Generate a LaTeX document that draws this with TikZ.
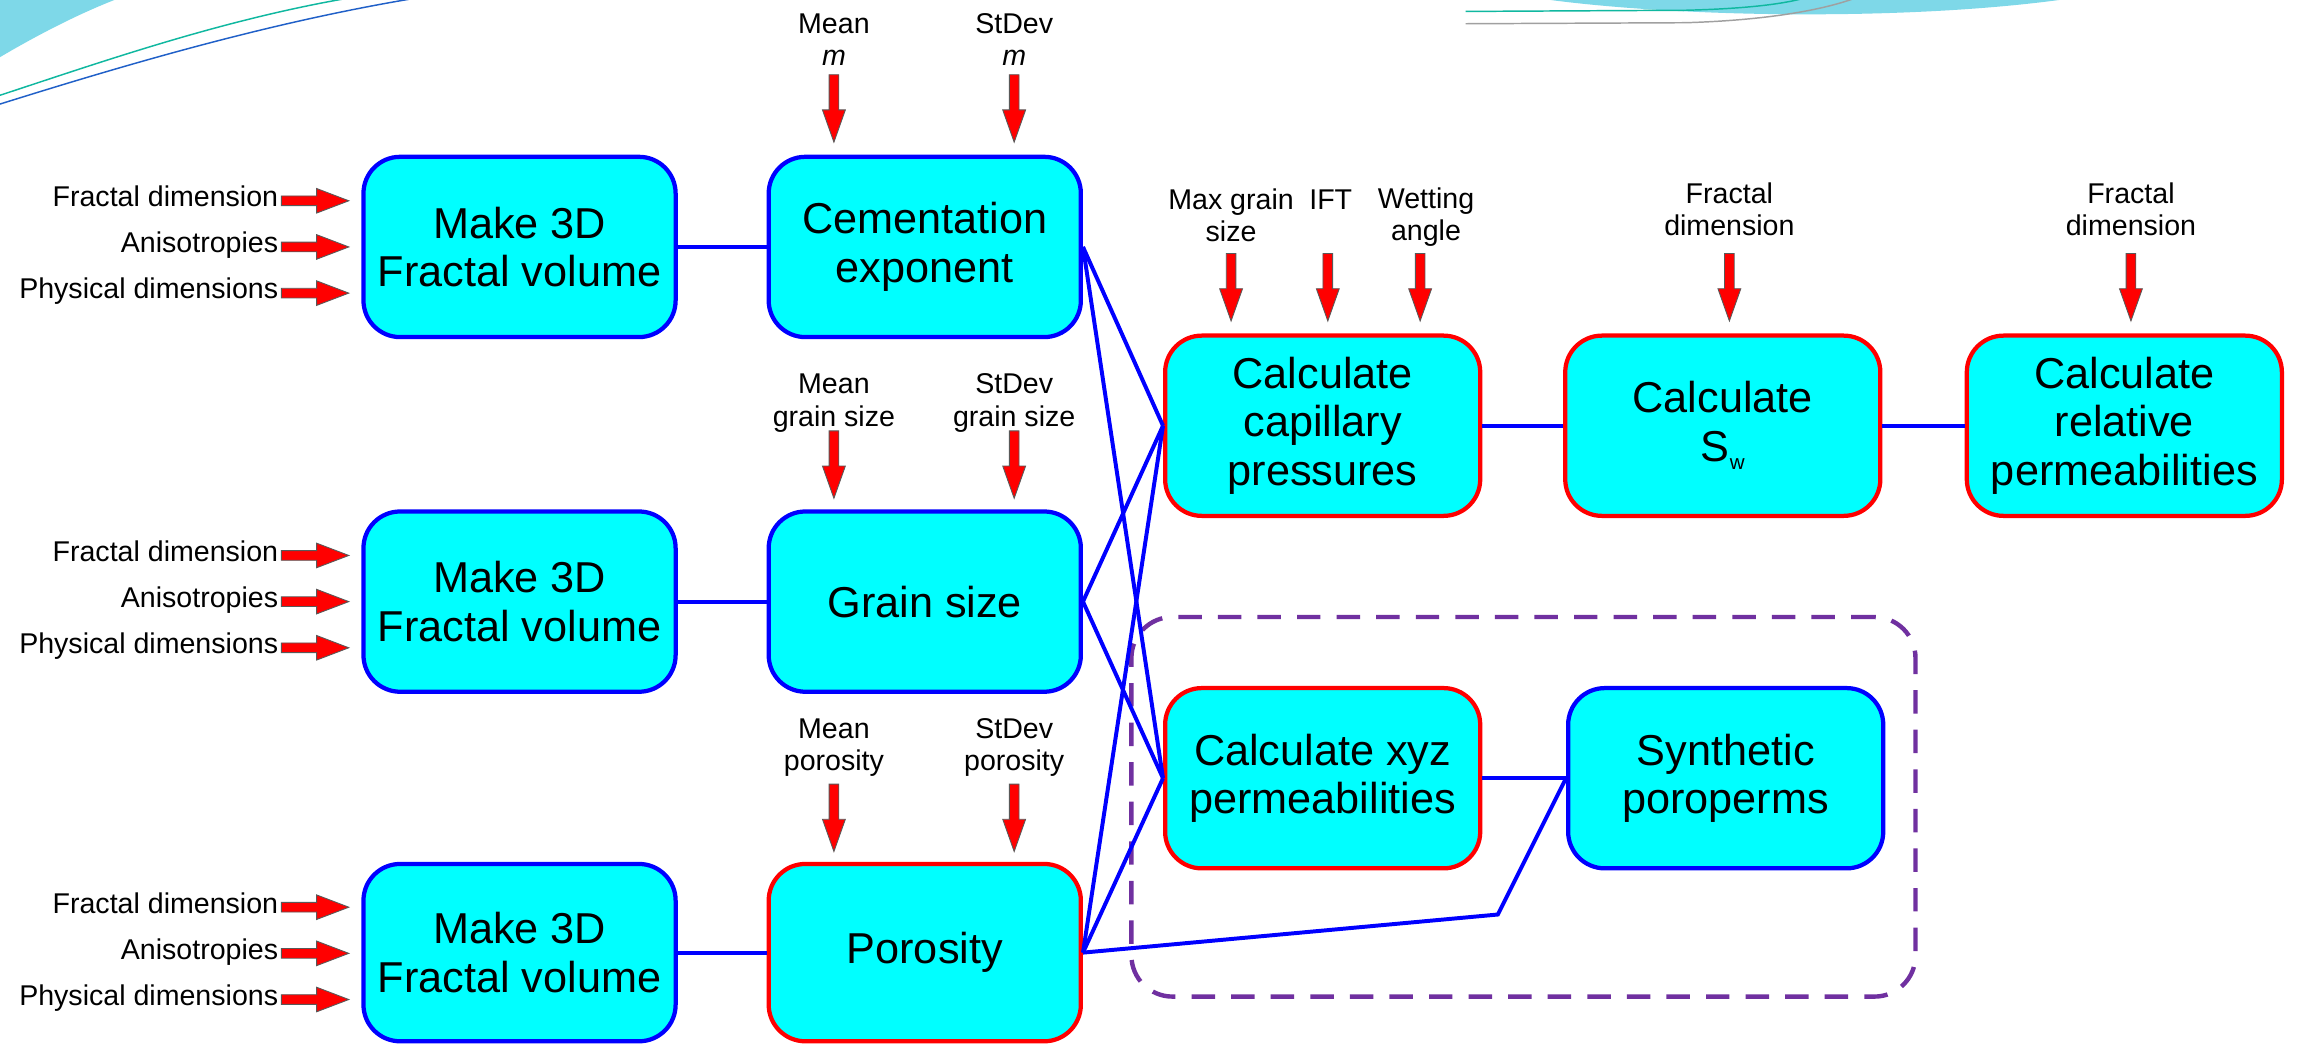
\documentclass[tikz,border=0pt]{standalone}
\usepackage{fontspec}
\setmainfont{Liberation Sans}
\definecolor{boxcyan}{HTML}{00FFFF}
\definecolor{bblue}{HTML}{0000FF}
\definecolor{bred}{HTML}{FF0000}
\definecolor{grppurple}{HTML}{7030A0}
\definecolor{decocyan}{HTML}{7ED8E8}
\definecolor{decoteal}{HTML}{10B8A0}
\definecolor{decoblue}{HTML}{2060C8}
\definecolor{decogray}{HTML}{A0A0A0}
\tikzset{
  box/.style={draw=bblue, fill=boxcyan, line width=2.9pt, rounded corners=25pt,
    minimum width=213pt, minimum height=123pt, align=center, inner sep=0pt,
    font=\fontsize{29.5}{33}\selectfont},
  redbox/.style={box, draw=bred},
  conn/.style={draw=bblue, line width=2.7pt},
  lbl/.style={align=center, inner sep=0pt, font=\fontsize{19.5}{22}\selectfont},
  grp/.style={draw=grppurple, line width=3pt, dash pattern=on 16pt off 11pt,
    rounded corners=28pt, inner sep=0pt},
  inarrow/.style={fill=bred, draw=black!65, line width=0.6pt},
  pics/downarrow/.style={code={\filldraw[inarrow] (-3.3,0) -- (3.3,0) -- (3.3,24)
    -- (7.8,24) -- (0,46) -- (-7.8,24) -- (-3.3,24) -- cycle;}},
  pics/rightarrow/.style={code={\filldraw[inarrow] (0,-3.3) -- (0,3.3) -- (24,3.3)
    -- (24,8.4) -- (46,0) -- (24,-8.4) -- (24,-3.3) -- cycle;}},
}
\begin{document}
\begin{tikzpicture}[x=1pt,y=-1pt]
\useasboundingbox (0,0) rectangle (1568,712);
\fill[white] (0,0) rectangle (1568,712);
% decorations at the top edge
\fill[decocyan] (0,0) -- (78,0) .. controls (50,11) and (22,26) .. (0,39) -- cycle;
\draw[decoteal, line width=1pt] (0,65) .. controls (70,42) and (150,14) .. (236,-1);
\draw[decoblue, line width=1pt] (0,71) .. controls (80,46) and (180,16) .. (282,-1);
\fill[decocyan] (1058,0) .. controls (1150,12) and (1300,14) .. (1405,0) -- cycle;
\draw[decoteal, line width=1pt] (1000,7.8) -- (1150,7) .. controls (1190,6) and (1215,3) .. (1230,-1);
\draw[decogray, line width=1pt] (1000,16.2) -- (1150,15.5) .. controls (1200,14) and (1240,8) .. (1265,-1);

% dashed group
\node[grp, minimum width=535pt, minimum height=259pt] (G) at (1039.5,550.5) {};

% boxes
\node[box] (A1) at (354.5,168.5) {Make 3D\\Fractal volume};
\node[box] (A2) at (354.5,410.5) {Make 3D\\Fractal volume};
\node[box, minimum height=121pt] (A3) at (354.5,650) {Make 3D\\Fractal volume};
\node[box] (B1) at (631,168.5) {Cementation\\exponent};
\node[box] (B2) at (631,410.5) {Grain size};
\node[redbox, minimum height=121pt] (B3) at (631,650) {Porosity};
\node[redbox, minimum width=215pt] (C1) at (902.5,290.5) {Calculate\\capillary\\pressures};
\node[redbox, minimum width=215pt] (C2) at (902.5,531) {Calculate xyz\\permeabilities};
\node[redbox, minimum width=215pt] (D1) at (1175.5,290.5) {Calculate\\S{\fontsize{14}{14}\selectfont\raisebox{-6pt}{w}}};
\node[redbox, minimum width=215pt] (E1) at (1449.5,290.5) {Calculate\\relative\\permeabilities};
\node[box, minimum width=215pt] (D2) at (1177.5,531) {Synthetic\\poroperms};

% connectors
\draw[conn] (A1.east) -- (B1.west);
\draw[conn] (A2.east) -- (B2.west);
\draw[conn] (A3.east) -- (B3.west);
\draw[conn] (B1.east) -- (C1.west);
\draw[conn] (B1.east) -- (C2.west);
\draw[conn] (B2.east) -- (C1.west);
\draw[conn] (B2.east) -- (C2.west);
\draw[conn] (B3.east) -- (C1.west);
\draw[conn] (B3.east) -- (C2.west);
\coordinate (bend) at (1022,624);
\draw[conn] (B3.east) -- (bend) -- (D2.west);
\draw[conn] (C1.east) -- (D1.west);
\draw[conn] (D1.east) -- (E1.west);
\draw[conn] (C2.east) -- (D2.west);

% left input labels and arrows
\foreach \r/\y in {1/137,2/379,3/619} {
  \node[lbl, anchor=base east] (fd\r) at (190,\y+4) {Fractal dimension};
  \node[lbl, anchor=base east] (an\r) at (190,\y+35.5) {Anisotropies};
  \node[lbl, anchor=base east] (pd\r) at (190,\y+67) {Physical dimensions};
  \pic (rfd\r) at (192,\y) {rightarrow};
  \pic (ran\r) at (192,\y+31.5) {rightarrow};
  \pic (rpd\r) at (192,\y+63) {rightarrow};
}

% top labels of column B
\node[lbl] (mm) at (569,27) {Mean\\\textit{m}};
\node[lbl] (sm) at (692,27) {StDev\\\textit{m}};
\pic (amm) at (569,51) {downarrow};
\pic (asm) at (692,51) {downarrow};
\node[lbl] (mg) at (569,275) {Mean\\grain size};
\node[lbl] (sg) at (692,275) {StDev\\grain size};
\pic (amg) at (569,294) {downarrow};
\pic (asg) at (692,294) {downarrow};
\node[lbl] (mp) at (569,510) {Mean\\porosity};
\node[lbl] (sp) at (692,510) {StDev\\porosity};
\pic (amp) at (569,535) {downarrow};
\pic (asp) at (692,535) {downarrow};

% inputs of the calculations
\node[lbl] (mgs) at (840,147) {Max grain\\size};
\node[lbl] (ift) at (908,136) {IFT};
\node[lbl] (wa) at (973,148) {Wetting\\angle};
\pic (amgs) at (840,173) {downarrow};
\pic (aift) at (906,173) {downarrow};
\pic (awa) at (969,173) {downarrow};
\node[lbl] (fdsw) at (1180,143) {Fractal\\dimension};
\node[lbl] (fdrp) at (1454,143) {Fractal\\dimension};
\pic (afdsw) at (1180,173) {downarrow};
\pic (afdrp) at (1454,173) {downarrow};
\end{tikzpicture}
\end{document}
